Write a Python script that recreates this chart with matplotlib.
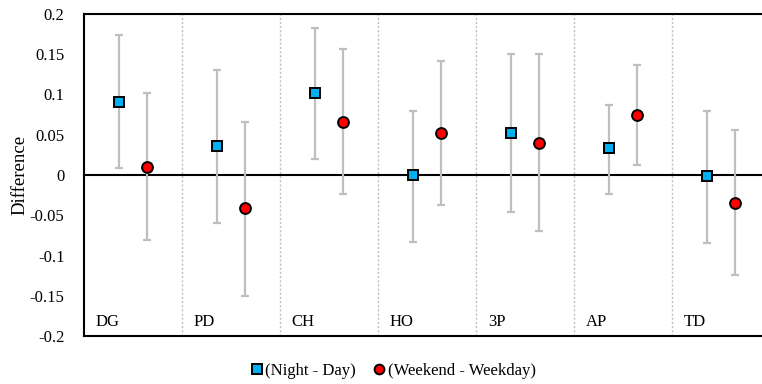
import matplotlib
matplotlib.use("Agg")
import matplotlib.pyplot as plt
import numpy as np

categories = ["DG", "PD", "CH", "HO", "3P", "AP", "TD"]
night_day = [0.091, 0.036, 0.102, 0.000, 0.052, 0.033, -0.001]
night_day_hi = [0.174, 0.131, 0.183, 0.080, 0.150, 0.087, 0.079]
night_day_lo = [0.009, -0.060, 0.020, -0.083, -0.046, -0.023, -0.084]
weekend = [0.010, -0.041, 0.066, 0.052, 0.040, 0.074, -0.035]
weekend_hi = [0.102, 0.066, 0.156, 0.142, 0.150, 0.137, 0.056]
weekend_lo = [-0.081, -0.150, -0.024, -0.037, -0.069, 0.013, -0.124]
yticks = [-0.2, -0.15, -0.1, -0.05, 0, 0.05, 0.1, 0.15, 0.2]
ytick_labels = ["-0.2", "-0.15", "-0.1", "-0.05", "0", "0.05", "0.1", "0.15", "0.2"]

plt.rcParams['font.family'] = ['Liberation Serif', 'DejaVu Serif']

fig = plt.figure(figsize=(7.62, 3.84), dpi=100)
ax = fig.add_axes([84/762, 1-336/384, 686/762, 322/384])

x = np.arange(len(categories))
xs1 = x + 0.357
xs2 = x + 0.643

nd = np.array(night_day); we = np.array(weekend)
err1 = [nd - np.array(night_day_lo), np.array(night_day_hi) - nd]
err2 = [we - np.array(weekend_lo), np.array(weekend_hi) - we]

ax.axhline(0, color='black', lw=1.5, zorder=2)
for i in range(1, len(categories)):
    ax.axvline(i, color='#BFBFBF', lw=1.0, ls=(0, (1.5, 1.5)), zorder=1)

ax.errorbar(xs1, nd, yerr=err1, fmt='none', ecolor='#BFBFBF', elinewidth=1.6, capsize=3, capthick=1.6, zorder=3)
ax.errorbar(xs2, we, yerr=err2, fmt='none', ecolor='#BFBFBF', elinewidth=1.6, capsize=3, capthick=1.6, zorder=3)
ax.plot(xs1, nd, 's', ms=7.3, mfc='#00B0F0', mec='black', mew=1.4, ls='none', zorder=4, label='(Night - Day)')
ax.plot(xs2, we, 'o', ms=7.8, mfc='#FF0000', mec='black', mew=1.4, ls='none', zorder=4, label='(Weekend - Weekday)')

for i, c in enumerate(categories):
    ax.text(i + 0.12, -0.183, c, fontsize=12, ha='left', va='center', zorder=5)

ax.set_xlim(0, len(categories))
ax.set_ylim(-0.2, 0.2)
ax.set_yticks(yticks)
ax.set_yticklabels(ytick_labels, fontsize=12)
ax.set_xticks([])
ax.tick_params(axis='y', length=0, pad=14)
for s in ['left', 'top', 'bottom', 'right']:
    ax.spines[s].set_linewidth(1.5)
    ax.spines[s].set_color('black')
ax.set_ylabel('Difference', fontsize=13.5, labelpad=1)

fig.legend(loc='center', bbox_to_anchor=(392/762, 1-371/384), ncol=2, frameon=False,
           fontsize=12, handletextpad=0.0, columnspacing=0.9, handlelength=1.0,
           markerscale=0.9)

fig.savefig('out.png', dpi=100)
